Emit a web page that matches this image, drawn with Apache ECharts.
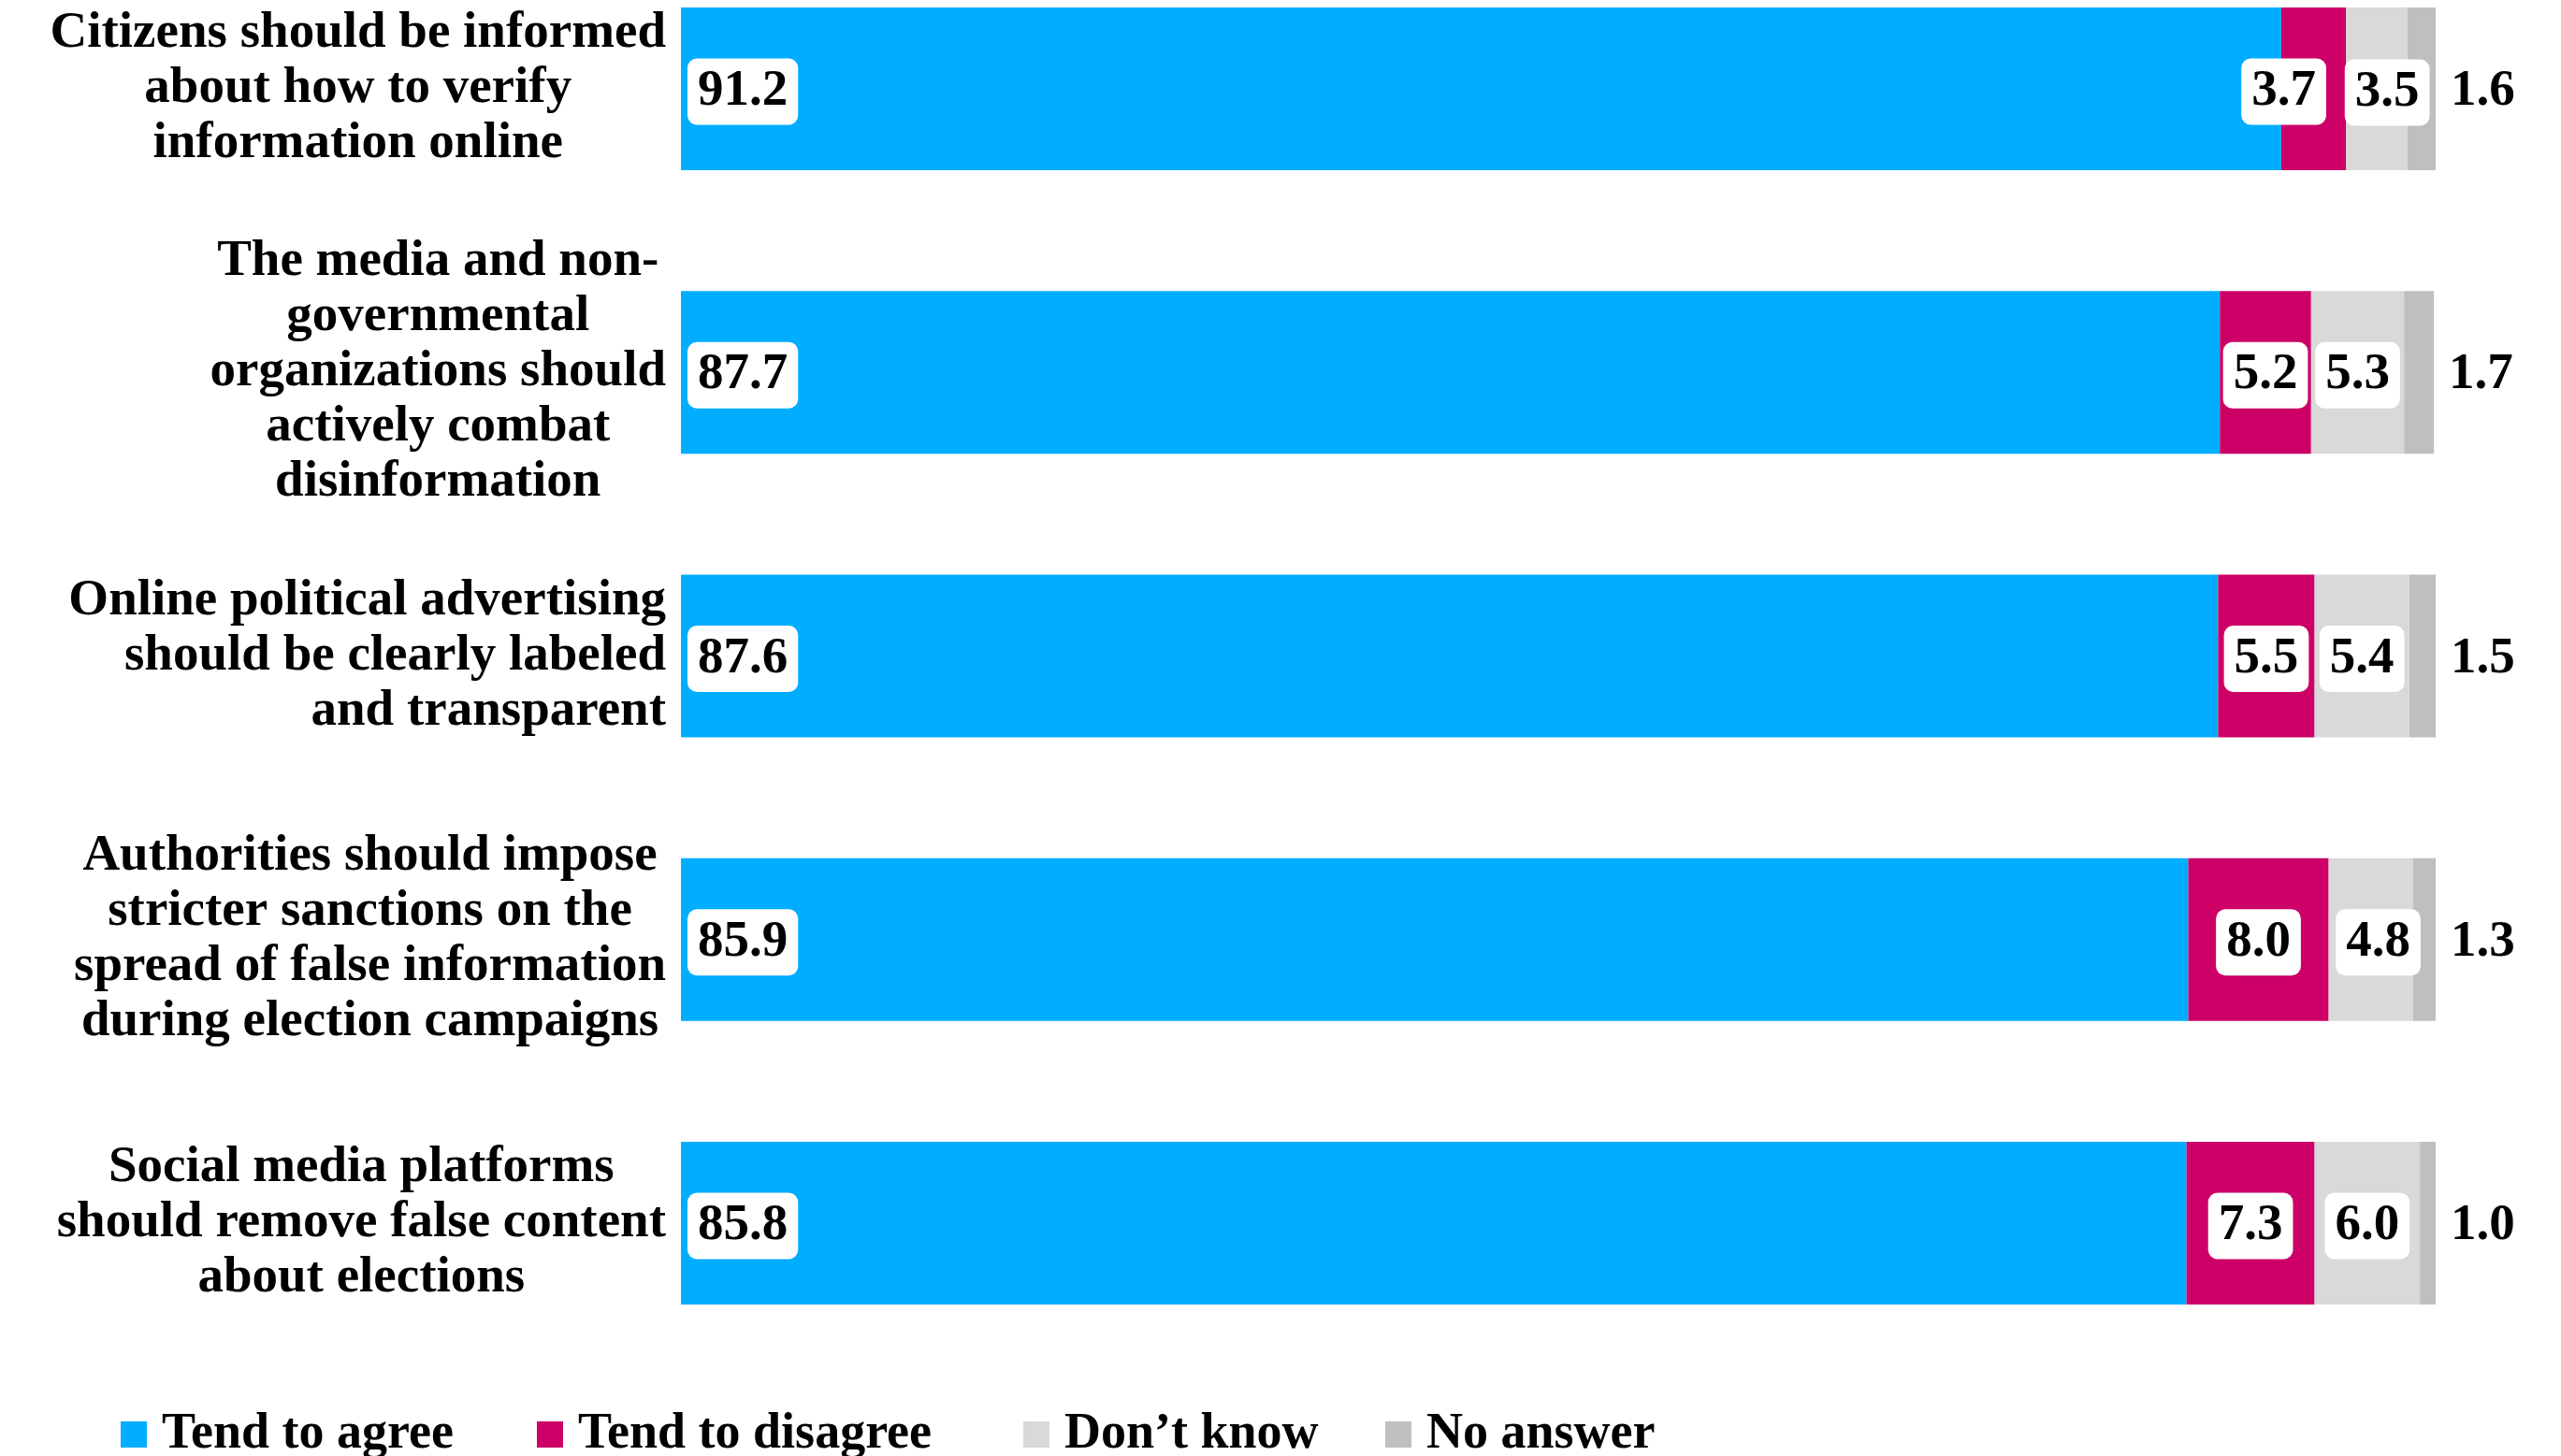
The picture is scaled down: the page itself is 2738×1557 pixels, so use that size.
<!DOCTYPE html>
<html>
<head>
<meta charset="utf-8">
<script src="https://cdn.jsdelivr.net/npm/echarts@6/dist/echarts.min.js"></script>
<style>
html, body { margin: 0; padding: 0; background: #fff; }
#chart { width: 2738px; height: 1557px; }
</style>
</head>
<body>
<div id="chart"></div>
<script>
const categories = [
  'Citizens should be informed\nabout how to verify\ninformation online',
  'The media and non-\ngovernmental\norganizations should\nactively combat\ndisinformation',
  'Online political advertising\nshould be clearly labeled\nand transparent',
  'Authorities should impose\nstricter sanctions on the\nspread of false information\nduring election campaigns',
  'Social media platforms\nshould remove false content\nabout elections'
];
const seriesNames = ['Tend to agree', 'Tend to disagree', 'Don\u2019t know', 'No answer'];
const tendAgree = [91.2, 87.7, 87.6, 85.9, 85.8];
const tendDisagree = [3.7, 5.2, 5.5, 8.0, 7.3];
const dontKnow = [3.5, 5.3, 5.4, 4.8, 6.0];
const noAnswer = [1.6, 1.7, 1.5, 1.3, 1.0];

const FONT = "'Liberation Serif', 'Times New Roman', serif";
const colors = ['#00ADFF', '#CC0066', '#D9D9D9', '#BFBFBF'];
const catAlign = ['center', 'center', 'right', 'center', 'center'];

const boxLabel = {
  show: true,
  color: '#000',
  fontFamily: FONT,
  fontWeight: 'bold',
  fontSize: 55,
  lineHeight: 57,
  backgroundColor: '#fff',
  borderRadius: 10,
  padding: [7, 11, 7, 11],
  offset: [0, 3],
  formatter: p => Number(p.value).toFixed(1)
};

function withOffsets(values, offsets) {
  return values.map((v, i) => offsets[i] ? { value: v, label: { offset: offsets[i] } } : v);
}

const chart = echarts.init(document.getElementById('chart'));
chart.setOption({
  animation: false,
  backgroundColor: '#fff',
  color: colors,
  grid: { left: 728, right: 134, top: -56.6, bottom: 97.4, containLabel: false, outerBoundsMode: 'none' },
  xAxis: { type: 'value', min: 0, max: 100, show: false },
  yAxis: {
    type: 'category',
    data: categories,
    inverse: true,
    axisLine: { show: false },
    axisTick: { show: false },
    splitLine: { show: false },
    axisLabel: {
      interval: 0,
      margin: 16,
      formatter: (v, i) => (catAlign[i] === 'right' ? '{r|' : '{c|') + v + '}',
      rich: {
        c: { align: 'center', fontFamily: FONT, fontWeight: 'bold', fontSize: 55, lineHeight: 59, color: '#000' },
        r: { align: 'right', fontFamily: FONT, fontWeight: 'bold', fontSize: 55, lineHeight: 59, color: '#000' }
      }
    }
  },
  legend: {
    left: 129,
    top: 1506,
    padding: 0,
    itemWidth: 28,
    itemHeight: 28,
    itemGap: 71,
    icon: 'rect',
    selectedMode: false,
    textStyle: { fontFamily: FONT, fontWeight: 'bold', fontSize: 54, lineHeight: 56, color: '#000', padding: [0, 0, 0, 11] },
    data: [
      { name: seriesNames[0], textStyle: { width: 330 } },
      { name: seriesNames[1], textStyle: { width: 405 } },
      { name: seriesNames[2], textStyle: { width: 272 } },
      { name: seriesNames[3], textStyle: { width: 255 } }
    ]
  },
  series: [
    {
      name: seriesNames[0], type: 'bar', stack: 'total', barWidth: 174,
      data: tendAgree,
      label: Object.assign({}, boxLabel, { position: 'insideLeft', distance: 7 })
    },
    {
      name: seriesNames[1], type: 'bar', stack: 'total', barWidth: 174,
      data: withOffsets(tendDisagree, { 0: [-32, 3] }),
      label: Object.assign({}, boxLabel, { position: 'inside' })
    },
    {
      name: seriesNames[2], type: 'bar', stack: 'total', barWidth: 174,
      data: withOffsets(dontKnow, { 0: [11, 4], 3: [8, 3] }),
      label: Object.assign({}, boxLabel, { position: 'inside' })
    },
    {
      name: seriesNames[3], type: 'bar', stack: 'total', barWidth: 174,
      data: noAnswer,
      label: {
        show: true, position: 'right', distance: 16, offset: [0, 3],
        color: '#000', fontFamily: FONT, fontWeight: 'bold', fontSize: 55,
        formatter: p => Number(p.value).toFixed(1)
      }
    }
  ]
});
</script>
</body>
</html>
